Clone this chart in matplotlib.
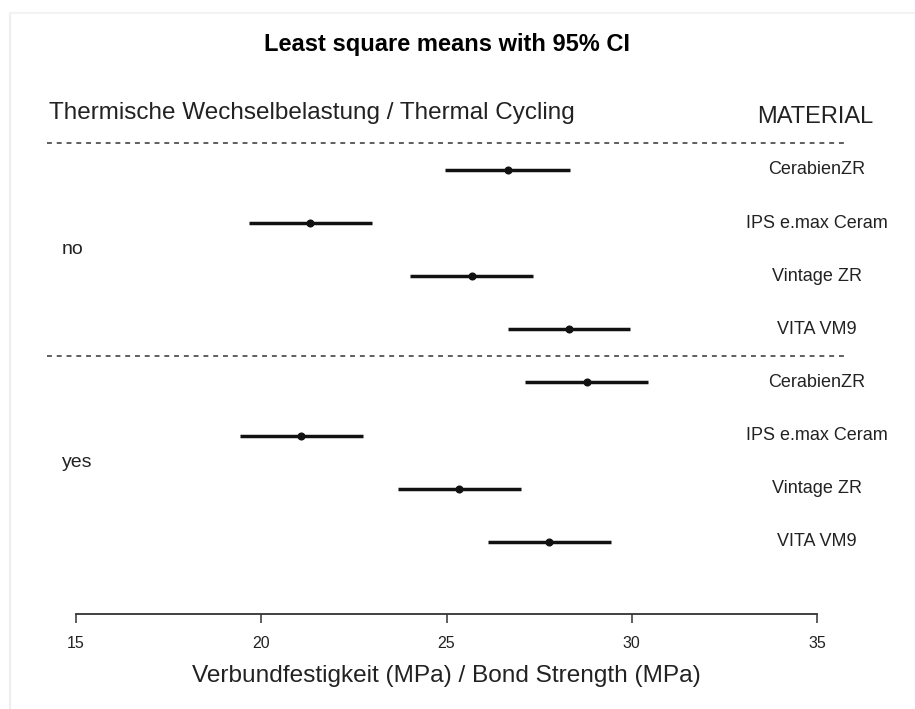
import matplotlib
matplotlib.use("Agg")
import matplotlib.pyplot as plt
import matplotlib.transforms as mtransforms
import numpy as np

# least square means with 95% CI
groups = ["no", "yes"]
materials = ["CerabienZR", "IPS e.max Ceram", "Vintage ZR", "VITA VM9"]
means_no = [26.65, 21.31, 25.68, 28.31]
lower_no = [24.97, 19.68, 24.02, 26.65]
upper_no = [28.34, 22.98, 27.33, 29.96]
means_yes = [28.78, 21.08, 25.35, 27.76]
lower_yes = [27.13, 19.43, 23.69, 26.12]
upper_yes = [30.45, 22.75, 27.00, 29.44]
xticks = [15, 20, 25, 30, 35]

W, H = 915, 709
fig = plt.figure(figsize=(W / 100, H / 100), dpi=100)
plt.rcParams['font.family'] = ['Liberation Sans', 'DejaVu Sans']

# axes placed in pixel units: x 15..35 -> px 76..817, bottom spine at px 614
row0_px, row_step = 170.0, 53.1
top_px, bot_px = 143.0, 614.0
ax = fig.add_axes([76 / W, 1 - bot_px / H, (817 - 76) / W, (bot_px - top_px) / H])
ax.set_xlim(15, 35)
ax.set_ylim((bot_px - row0_px) / row_step, (top_px - row0_px) / row_step)

means = means_no + means_yes
lower = lower_no + lower_yes
upper = upper_no + upper_yes
ypos = np.arange(len(means))

ax.hlines(ypos, lower, upper, color="#111111", lw=2.5)
ax.plot(means, ypos, "o", color="#111111", ms=4.8)

for s in ["top", "right", "left"]:
    ax.spines[s].set_visible(False)
ax.spines["bottom"].set_color("#333333")
ax.spines["bottom"].set_linewidth(1.3)
ax.set_yticks([])
ax.set_xticks(xticks)
ax.set_xticklabels([str(t) for t in xticks])
ax.tick_params(axis="x", length=6.5, width=1.1, color="#333333",
               labelsize=11.5, pad=9.5, labelcolor="#222222")
ax.set_xlabel("Verbundfestigkeit (MPa) / Bond Strength (MPa)",
              fontsize=17.6, color="#222222", labelpad=10)

# dashed group separators spanning beyond the axis
tr = mtransforms.blended_transform_factory(fig.transFigure, ax.transData)
n = len(materials)
for k in range(len(groups)):
    ax.plot([47 / W, 845 / W], [k * n - 0.5] * 2, transform=tr,
            ls=(0, (3.2, 3.2)), color="#333333", lw=1.1, clip_on=False)

# material labels and group labels
for i in range(len(means)):
    ax.text(817 / W, i, materials[i % n], transform=tr, ha="center",
            va="center", fontsize=13, color="#222222")
for k, g in enumerate(groups):
    ax.text(62 / W, k * n + (n - 1) / 2, g, transform=tr, ha="left",
            va="center", fontsize=14, color="#222222")

fig.text(447 / W, 1 - 45 / H, "Least square means with 95% CI",
         ha="center", va="center", fontsize=17, fontweight="bold")
fig.text(49 / W, 1 - 113 / H, "Thermische Wechselbelastung / Thermal Cycling",
         ha="left", va="center", fontsize=17.5, color="#222222")
fig.text(815 / W, 1 - 117 / H, "MATERIAL", ha="center", va="center",
         fontsize=17, color="#222222")

# faint frame edge seen on the left/top of the original image
fig.add_artist(plt.Line2D([10 / W, 10 / W], [0, 1 - 13 / H],
                          transform=fig.transFigure, color="#eeeeee", lw=1.5))
fig.add_artist(plt.Line2D([10 / W, 1], [1 - 13 / H, 1 - 13 / H],
                          transform=fig.transFigure, color="#f3f3f3", lw=1.5))

fig.savefig("out.png", dpi=100)
